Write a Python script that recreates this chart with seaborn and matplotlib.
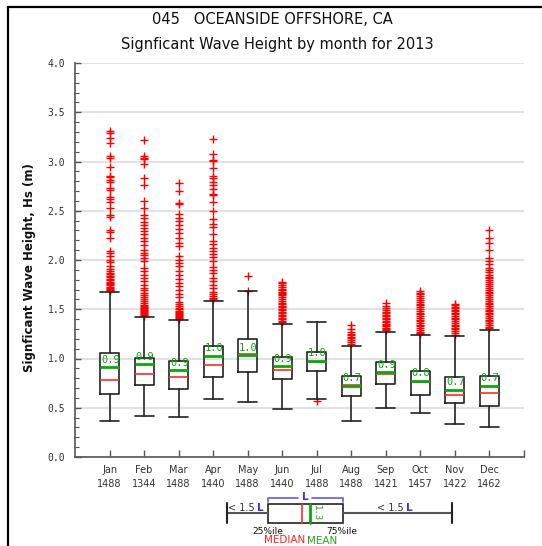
import numpy as np
import pandas as pd
import matplotlib
matplotlib.use("Agg")
import matplotlib.pyplot as plt
import seaborn as sns

# Monthly wave-height statistics (m)
months = ["Jan", "Feb", "Mar", "Apr", "May", "Jun",
          "Jul", "Aug", "Sep", "Oct", "Nov", "Dec"]
counts = [1488, 1344, 1488, 1440, 1488, 1440, 1488, 1488, 1421, 1457, 1422, 1462]
q1 = [0.64, 0.73, 0.69, 0.81, 0.865, 0.795, 0.872, 0.621, 0.746, 0.631, 0.546, 0.516]
median = [0.777, 0.842, 0.811, 0.930, 1.045, 0.879, 0.963, 0.736, 0.838, 0.763, 0.634, 0.645]
q3 = [1.055, 1.004, 0.977, 1.126, 1.194, 1.014, 1.071, 0.821, 0.960, 0.872, 0.811, 0.821]
mean = [0.913, 0.944, 0.879, 1.028, 1.035, 0.923, 0.977, 0.722, 0.86, 0.773, 0.685, 0.722]
whisker_low = [0.366, 0.420, 0.404, 0.587, 0.556, 0.488, 0.585, 0.366, 0.498, 0.444, 0.339, 0.302]
whisker_high = [1.672, 1.42, 1.394, 1.588, 1.69, 1.35, 1.374, 1.126, 1.270, 1.235, 1.225, 1.289]

outliers = [
    [3.31, 3.29, 3.24, 3.19, 3.06, 3.04, 2.94, 2.85, 2.84, 2.81, 2.79, 2.73, 2.71,
     2.64, 2.62, 2.59, 2.53, 2.46, 2.44, 2.30, 2.28, 2.22, 2.09, 2.07, 2.04, 2.00,
     1.98, 1.94, 1.91, 1.89, 1.87, 1.86, 1.84, 1.83, 1.81, 1.80, 1.78, 1.77, 1.76,
     1.75, 1.73, 1.72, 1.71, 1.70, 1.69],
    [3.22, 3.06, 3.04, 3.03, 2.97, 2.83, 2.76, 2.60, 2.53, 2.46, 2.43, 2.39, 2.36,
     2.32, 2.29, 2.26, 2.22, 2.19, 2.15, 2.10, 2.07, 2.05, 2.02, 1.99, 1.92, 1.89,
     1.85, 1.82, 1.79, 1.75, 1.72, 1.70, 1.67, 1.64, 1.62, 1.60, 1.58, 1.56, 1.54,
     1.53, 1.52, 1.51, 1.50, 1.49, 1.48, 1.47, 1.46, 1.45, 1.44, 1.43],
    [2.78, 2.70, 2.58, 2.57, 2.47, 2.43, 2.40, 2.36, 2.31, 2.27, 2.22, 2.17, 2.14,
     2.04, 2.00, 1.97, 1.94, 1.89, 1.85, 1.81, 1.77, 1.74, 1.70, 1.65, 1.62, 1.57,
     1.55, 1.53, 1.51, 1.50, 1.48, 1.47, 1.46, 1.45, 1.44, 1.43, 1.42, 1.41, 1.40],
    [3.23, 3.08, 3.02, 3.01, 2.93, 2.85, 2.83, 2.79, 2.76, 2.72, 2.67, 2.66, 2.59,
     2.50, 2.42, 2.37, 2.33, 2.26, 2.19, 2.16, 2.12, 2.09, 2.06, 2.03, 1.99, 1.93,
     1.90, 1.87, 1.82, 1.79, 1.75, 1.72, 1.68, 1.65, 1.63, 1.61, 1.60],
    [1.84, 1.69],
    [1.78, 1.77, 1.75, 1.73, 1.71, 1.70, 1.68, 1.67, 1.65, 1.64, 1.62, 1.60, 1.58,
     1.56, 1.55, 1.53, 1.52, 1.50, 1.49, 1.47, 1.46, 1.44, 1.43, 1.41, 1.40, 1.38,
     1.37],
    [0.57],
    [1.34, 1.30, 1.27, 1.25, 1.24, 1.22, 1.21, 1.19, 1.17, 1.15],
    [1.56, 1.53, 1.51, 1.49, 1.47, 1.46, 1.44, 1.43, 1.41, 1.40, 1.38, 1.37, 1.35,
     1.34, 1.33, 1.31, 1.30, 1.29],
    [1.69, 1.67, 1.65, 1.63, 1.61, 1.59, 1.57, 1.55, 1.54, 1.52, 1.50, 1.48, 1.46,
     1.45, 1.43, 1.41, 1.39, 1.38, 1.36, 1.34, 1.33, 1.31, 1.29, 1.27, 1.26, 1.25],
    [1.55, 1.54, 1.52, 1.51, 1.49, 1.48, 1.46, 1.45, 1.43, 1.41, 1.40, 1.38, 1.36,
     1.34, 1.33, 1.31, 1.30, 1.28, 1.26, 1.24],
    [2.30, 2.22, 2.17, 2.10, 2.02, 1.99, 1.96, 1.92, 1.90, 1.88, 1.85, 1.83, 1.82,
     1.80, 1.78, 1.76, 1.74, 1.72, 1.70, 1.68, 1.66, 1.64, 1.62, 1.60, 1.58, 1.56,
     1.55, 1.53, 1.51, 1.49, 1.48, 1.46, 1.45, 1.43, 1.41, 1.39, 1.38, 1.36, 1.34,
     1.32, 1.31],
]

title_1 = "045   OCEANSIDE OFFSHORE, CA"
title_2 = "Signficant Wave Height by month for 2013"
y_label = "Signficant Wave Height, Hs (m)"

RED = "#ff2a2a"
GREEN = "#0aa80a"
TICK_GREY = "#333333"

sns.set_theme(style="white")
plt.rcParams["font.family"] = ["DejaVu Sans"]

W, H = 542, 546
fig = plt.figure(figsize=(W / 100, H / 100), dpi=100)
fig.patch.set_facecolor("white")

ax = fig.add_axes([75 / W, 1 - 457 / H, (524 - 75) / W, (457 - 63) / H])
ax.set_facecolor("white")

# outlier crosses
flier_df = pd.DataFrame({
    "month": [m for m, vals in zip(months, outliers) for _ in vals],
    "hs": [v for vals in outliers for v in vals],
})
sns.stripplot(data=flier_df, x="month", y="hs", order=months, jitter=False,
              marker="+", color="red", size=5.5, linewidth=1.0, ax=ax, zorder=3)

# boxes from the summary statistics
stats = []
for i in range(len(months)):
    stats.append(dict(med=median[i], q1=q1[i], q3=q3[i], mean=mean[i],
                      whislo=whisker_low[i], whishi=whisker_high[i], fliers=[]))
positions = np.arange(len(months))
ax.bxp(stats, positions=positions, widths=0.55, capwidths=0.55,
       showmeans=True, meanline=True, manage_ticks=False, patch_artist=False,
       boxprops=dict(color="#222222", linewidth=1.2),
       whiskerprops=dict(color="#222222", linewidth=1.2),
       capprops=dict(color="#222222", linewidth=1.2),
       medianprops=dict(color=RED, linewidth=1.2),
       meanprops=dict(color=GREEN, linewidth=2.0, linestyle="-"),
       zorder=4)

for i, m in enumerate(mean):
    ax.text(positions[i] - 0.25, m + 0.025, f"{m:.1f}", color=GREEN,
            fontsize=7.5, family="DejaVu Sans Mono", ha="left", va="bottom",
            zorder=5)

ax.set_xlim(-1, len(months))
ax.set_ylim(0, 4.0)
ax.set_xlabel("")
ax.set_ylabel("")

ax.set_yticks(np.arange(0, 4.01, 0.5))
ax.set_yticks(np.arange(0, 4.01, 0.1), minor=True)
ax.set_yticklabels([f"{v:.1f}" for v in np.arange(0, 4.01, 0.5)],
                   family="DejaVu Sans Mono", fontsize=7, color=TICK_GREY)
ax.set_xticks(list(positions) + [len(months)])
ax.set_xticklabels([f"{m}\n{c}" for m, c in zip(months, counts)] + [""],
                   fontsize=7, color=TICK_GREY, linespacing=1.5)
ax.tick_params(axis="y", which="major", direction="in", length=4, width=1,
               color="#555555", pad=7, left=True)
ax.tick_params(axis="y", which="minor", direction="in", length=3, width=0.8,
               color="#555555", left=True)
ax.tick_params(axis="x", which="major", direction="in", length=5, width=1,
               color="#555555", pad=6, bottom=True)

ax.grid(axis="y", which="major", color="#e2e2e2", linewidth=1.5, zorder=0)
ax.set_axisbelow(True)
for side in ["top", "right"]:
    ax.spines[side].set_visible(False)
for side in ["left", "bottom"]:
    ax.spines[side].set_color("#555555")
    ax.spines[side].set_linewidth(1.2)

fig.text(272 / W, 1 - 20 / H, title_1, ha="center", va="center",
         fontsize=10.5, color="#111111")
fig.text(277 / W, 1 - 44 / H, title_2, ha="center", va="center",
         fontsize=10.5, color="#111111")
fig.text(30 / W, 1 - 268 / H, y_label, rotation=90, ha="center", va="center",
         fontsize=8.5, fontweight="bold", color="#111111")

# key diagram and frame, drawn in pixel units on an overlay
key = fig.add_axes([0, 0, 1, 1], facecolor="none")
key.set_xlim(0, W)
key.set_ylim(H, 0)
key.axis("off")

key.plot([8, W], [7, 7], color="black", lw=1.6)
key.plot([8, 8], [7, H], color="black", lw=1.6)

key.plot([227, 268], [513, 513], color="#555555", lw=1.5)
key.plot([343, 452], [513, 513], color="#555555", lw=1.5)
key.plot([227, 227], [503, 523], color="#222222", lw=1.5)
key.plot([452, 452], [503, 523], color="#222222", lw=1.5)
key.add_patch(plt.Rectangle((268, 504), 75, 19, fill=False,
                            edgecolor="#222222", lw=1.2))
key.plot([302, 302], [504, 523], color=RED, lw=1.2)
key.plot([310, 310], [504, 523], color=GREEN, lw=2)
key.text(316, 513, "1.3", rotation=-90, color=GREEN, fontsize=6.5,
         family="DejaVu Sans Mono", ha="center", va="center")

BLUE = "#3333ee"
key.plot([268, 268, 298], [502, 498, 498], color="#6666ff", lw=1.3)
key.plot([312, 343, 343], [498, 498, 502], color="#6666ff", lw=1.3)
key.text(305, 497, "L", color=BLUE, fontsize=7.5, fontweight="bold",
         ha="center", va="center")

key.text(255, 508, "< 1.5", color="#333333", fontsize=7, ha="right", va="center")
key.text(257, 508, "L", color=BLUE, fontsize=7.5, fontweight="bold",
         ha="left", va="center")
key.text(404, 508, "< 1.5", color="#333333", fontsize=7, ha="right", va="center")
key.text(406, 508, "L", color=BLUE, fontsize=7.5, fontweight="bold",
         ha="left", va="center")

key.text(268, 531, "25%ile", color="#111111", fontsize=6.5, ha="center", va="center")
key.text(342, 531, "75%ile", color="#111111", fontsize=6.5, ha="center", va="center")
key.text(285, 540, "MEDIAN", color="#ff2222", fontsize=7.5, ha="center", va="center")
key.text(322, 541, "MEAN", color="#22aa22", fontsize=7.5, ha="center", va="center")

fig.savefig("out.png", dpi=100, facecolor="white")
